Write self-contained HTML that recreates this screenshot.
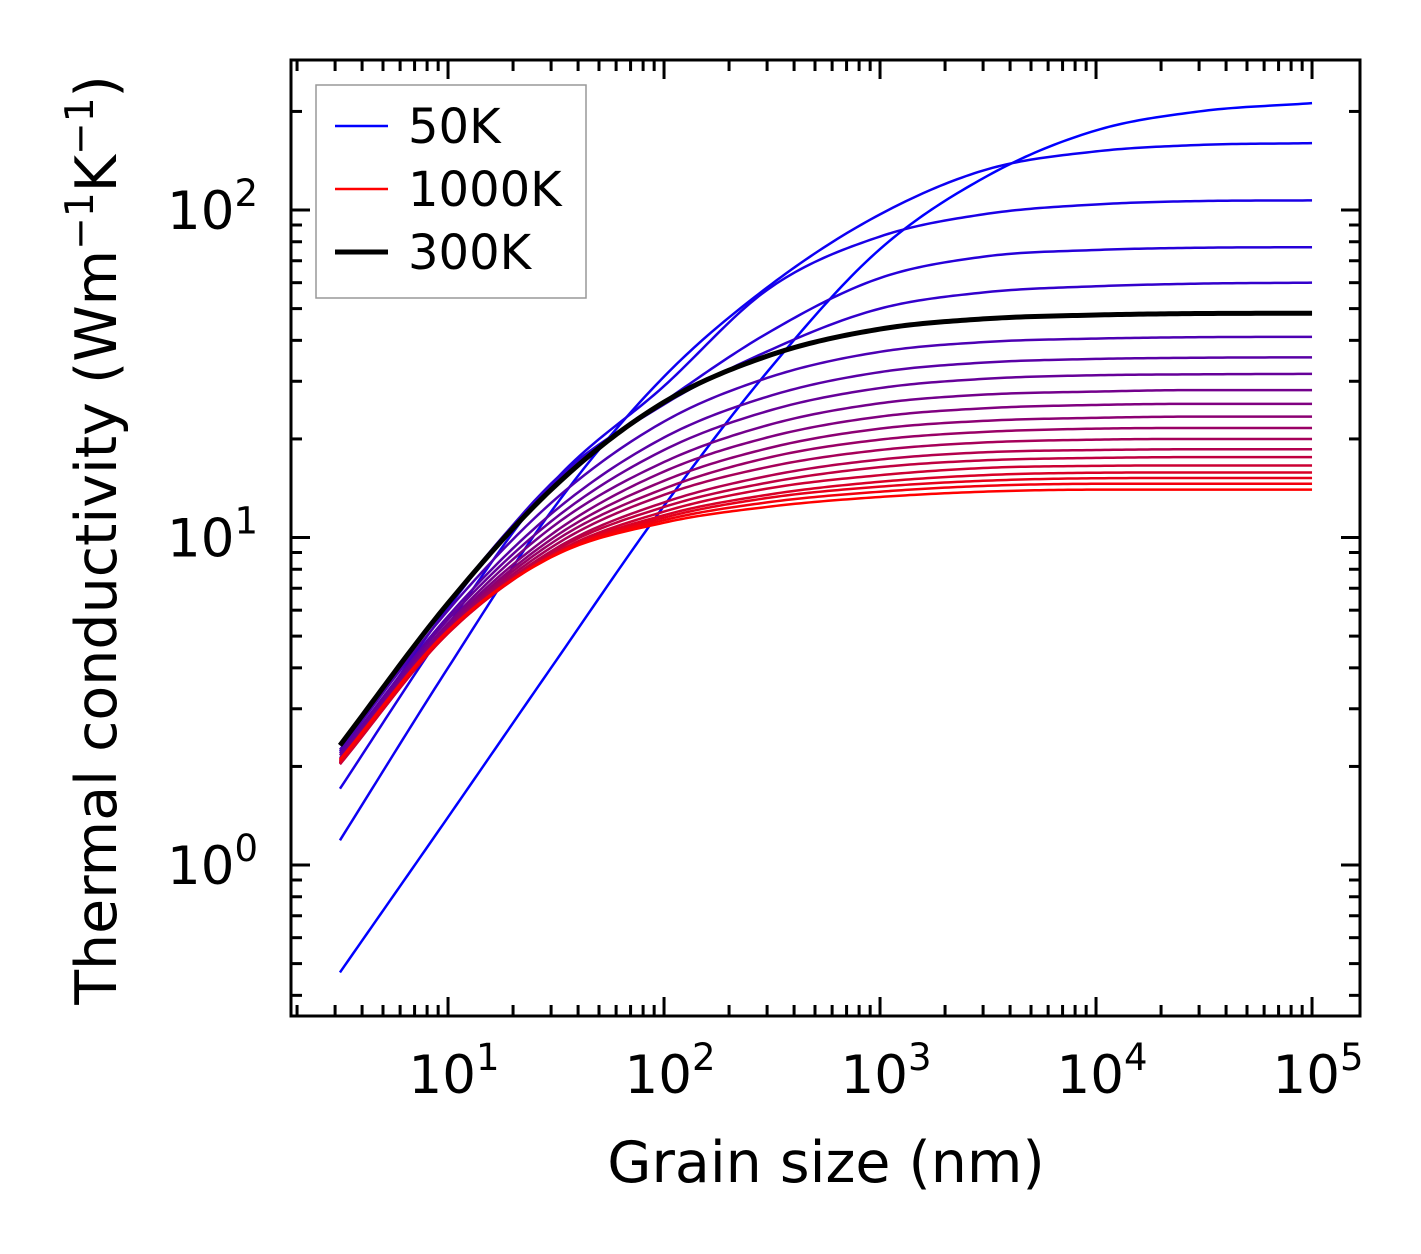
<!DOCTYPE html>
<html><head><meta charset="utf-8"><style>
html,body{margin:0;padding:0;background:#fff}
svg{display:block;font-family:"DejaVu Sans","Liberation Sans",sans-serif}
</style></head><body>
<svg id="chart" width="1421" height="1254" viewBox="0 0 1421 1254" xmlns="http://www.w3.org/2000/svg">
<rect width="1421" height="1254" fill="#fff"/>
<g id="curves"></g>
<g id="ticks"></g>
<rect x="291" y="60" width="1069" height="956" fill="none" stroke="#000" stroke-width="3"/>
<g id="labels" font-size="53" fill="#000"></g>
<text x="826" y="1182" font-size="57" text-anchor="middle">Grain size (nm)</text>
<text transform="translate(116,540) rotate(-90)" font-size="57" text-anchor="middle">Thermal conductivity (Wm<tspan dy="-23" font-size="39">−1</tspan><tspan dy="23">K</tspan><tspan dy="-23" font-size="39">−1</tspan><tspan dy="23">)</tspan></text>
<g>
<rect x="316" y="85" width="270" height="213" fill="#fff" stroke="#999" stroke-width="1.5"/>
<line x1="335" y1="126" x2="388" y2="126" stroke="#0000ff" stroke-width="2.4"/>
<text x="408" y="143" font-size="48">50K</text>
<line x1="335" y1="189" x2="388" y2="189" stroke="#ff0000" stroke-width="2.4"/>
<text x="408" y="206" font-size="48">1000K</text>
<line x1="335" y1="252" x2="388" y2="252" stroke="#000" stroke-width="5"/>
<text x="408" y="269" font-size="48">300K</text>
</g>
</svg>
<script>
const grain = [3.16, 10, 30, 100, 300, 1000, 3000, 1e4, 3e4, 1e5];
const temps = [50,100,150,200,250,300,350,400,450,500,550,600,650,700,750,800,850,900,950,1000,1050];
const k50 = [0.47,1.4,4.0,12.5,32,76,125,175,200,212];
const k100 = [1.19,4.0,12,31,58,97,132,151,158,160];
const k150 = [1.71,5.4,14.5,29,57,83,97,104,106.5,107];
const k200 = [2.05,6.1,14.6,26,42,62,72,75.5,76.7,77];
const k250 = [2.22,6.3,14.4,25.5,37,50,56,58.5,59.6,60];
const k300 = [2.32,6.3,14.0,25.9,35.8,43.3,46.5,47.8,48.3,48.4];
const k350 = [2.25,5.99,12.75,22.6,30.7,36.9,39.5,40.5,40.9,41];
const k400 = [2.19,5.75,11.8,20.2,26.9,32.0,34.2,35.1,35.4,35.5];
const k450 = [2.16,5.62,11.2,18.5,24.3,28.6,30.5,31.3,31.5,31.6];
const k500 = [2.12,5.47,10.7,17.0,22.0,25.7,27.3,27.9,28.2,28.2];
const k550 = [2.10,5.38,10.2,15.9,20.2,23.4,24.8,25.4,25.6,25.6];
const k600 = [2.08,5.29,9.87,14.9,18.7,21.5,22.7,23.2,23.4,23.4];
const k650 = [2.06,5.23,9.59,14.1,17.5,19.9,21.0,21.5,21.6,21.6];
const k700 = [2.05,5.18,9.32,13.5,16.4,18.5,19.5,19.9,20,20];
const k750 = [2.03,5.12,9.08,12.8,15.4,17.3,18.2,18.5,18.6,18.6];
const k800 = [2.04,5.12,8.98,12.4,14.7,16.4,17.2,17.5,17.6,17.6];
const k850 = [2.04,5.10,8.83,12.0,14.1,15.5,16.3,16.55,16.6,16.6];
const k900 = [2.05,5.10,8.77,11.7,13.5,14.8,15.5,15.77,15.8,15.8];
const k950 = [2.07,5.15,8.77,11.5,13.2,14.3,14.9,15.17,15.2,15.2];
const k1000 = [2.09,5.18,8.75,11.3,12.8,13.8,14.37,14.59,14.6,14.6];
const k1050 = [2.1,5.2,8.7,11.1,12.4,13.3,13.8,14.0,14.0,14.0];
const series = [k50,k100,k150,k200,k250,k300,k350,k400,k450,k500,k550,k600,k650,k700,k750,k800,k850,k900,k950,k1000,k1050];
const highlight = k300;
const xTickExps = [1,2,3,4,5];
const yTickExps = [0,1,2];

const X0=291,X1=1360,Y0=60,Y1=1016;
const xMin=Math.log10(1.875), xMax=Math.log10(1.875)+(X1-X0)/216;
const yMin=-0.461, yMax=-0.461+(Y1-Y0)/327.5;
function xs(v){return X0+(Math.log10(v)-xMin)/(xMax-xMin)*(X1-X0);}
function ys(v){return Y1-(Math.log10(v)-yMin)/(yMax-yMin)*(Y1-Y0);}
const NS='http://www.w3.org/2000/svg';

function smoothPath(xv,yv){
  const lx=xv.map(Math.log10), ly=yv.map(Math.log10), n=lx.length;
  const d=[],h=[],m=new Array(n);
  for(let i=0;i<n-1;i++){h.push(lx[i+1]-lx[i]);d.push((ly[i+1]-ly[i])/h[i]);}
  m[0]=d[0];m[n-1]=d[n-2];
  for(let i=1;i<n-1;i++){m[i]=(d[i-1]*d[i]<=0)?0:(d[i-1]*h[i]+d[i]*h[i-1])/(h[i-1]+h[i]);}
  for(let i=0;i<n-1;i++){if(d[i]===0){m[i]=0;m[i+1]=0;continue;}
    const a=m[i]/d[i],b=m[i+1]/d[i],s=a*a+b*b;if(s>9){const t=3/Math.sqrt(s);m[i]=t*a*d[i];m[i+1]=t*b*d[i];}}
  let p='';
  for(let i=0;i<n-1;i++){const hh=h[i];
    for(let k=0;k<=24;k++){if(i>0&&k===0)continue;const t=k/24,t2=t*t,t3=t2*t;
      const y=(2*t3-3*t2+1)*ly[i]+(t3-2*t2+t)*hh*m[i]+(-2*t3+3*t2)*ly[i+1]+(t3-t2)*hh*m[i+1];
      const x=lx[i]+t*hh;
      p+=(p?'L':'M')+xs(Math.pow(10,x)).toFixed(2)+','+ys(Math.pow(10,y)).toFixed(2);}}
  return p;
}
const cg=document.getElementById('curves');
series.forEach((s,i)=>{
  const t=i/(series.length-1);
  const el=document.createElementNS(NS,'path');
  el.setAttribute('d',smoothPath(grain,s));
  el.setAttribute('fill','none');
  el.setAttribute('stroke','rgb('+Math.round(255*t)+',0,'+Math.round(255*(1-t))+')');
  el.setAttribute('stroke-width','2.5');
  
  
  cg.appendChild(el);
});
const hl=document.createElementNS(NS,'path');
hl.setAttribute('d',smoothPath(grain,highlight));
hl.setAttribute('fill','none');hl.setAttribute('stroke','#000');hl.setAttribute('stroke-width','5');


cg.appendChild(hl);

const tg=document.getElementById('ticks');
function line(x1,y1,x2,y2){const l=document.createElementNS(NS,'line');
  l.setAttribute('x1',x1);l.setAttribute('y1',y1);l.setAttribute('x2',x2);l.setAttribute('y2',y2);
  l.setAttribute('stroke','#000');l.setAttribute('stroke-width','3');
  
  
  tg.appendChild(l);}
for(let e=0;e<=5;e++)for(let k=1;k<=9;k++){const v=k*Math.pow(10,e);const lv=Math.log10(v);
  if(lv<xMin||lv>xMax)continue;const x=xs(v),L=k===1?19:11;line(x,Y1,x,Y1-L);line(x,Y0,x,Y0+L);}
for(let e=-1;e<=2;e++)for(let k=1;k<=9;k++){const v=k*Math.pow(10,e);const lv=Math.log10(v);
  if(lv<yMin||lv>yMax)continue;const y=ys(v),L=k===1?19:11;line(X0,y,X0+L,y);line(X1,y,X1-L,y);}
const lg=document.getElementById('labels');
xTickExps.forEach(e=>{const t=document.createElementNS(NS,'text');
  t.setAttribute('x',xs(Math.pow(10,e))+6);t.setAttribute('y',1093);t.setAttribute('text-anchor','middle');
  t.innerHTML='10<tspan dy="-23" font-size="37">'+e+'</tspan>';
  
  
  lg.appendChild(t);});
yTickExps.forEach(e=>{const t=document.createElementNS(NS,'text');
  t.setAttribute('x',258);t.setAttribute('y',ys(Math.pow(10,e))+19);t.setAttribute('text-anchor','end');
  t.innerHTML='10<tspan dy="-23" font-size="37">'+e+'</tspan>';
  
  
  lg.appendChild(t);});
</script>
</body></html>
